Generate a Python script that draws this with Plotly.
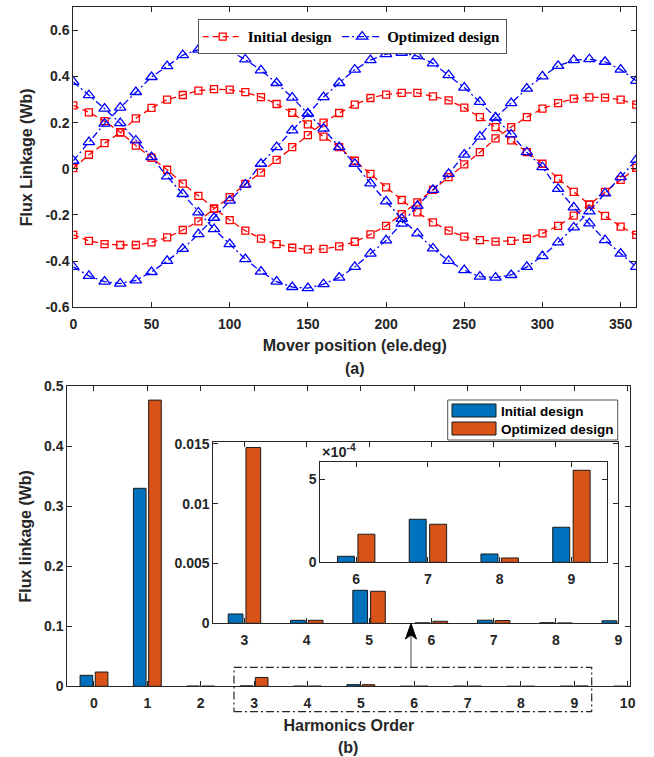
import plotly.graph_objects as go

# ---------------- data: (a) flux linkage vs mover position ----------------
deg = list(range(0, 361, 10))

init_a = [0.003, 0.061, 0.111, 0.157, 0.219, 0.264, 0.300, 0.320, 0.339, 0.345,
          0.343, 0.332, 0.311, 0.281, 0.243, 0.193, 0.140, 0.094, 0.035, -0.022,
          -0.080, -0.135, -0.189, -0.232, -0.268, -0.294, -0.309, -0.315, -0.312, -0.303,
          -0.280, -0.247, -0.203, -0.155, -0.100, -0.048, 0.004]
init_b = [0.275, 0.245, 0.207, 0.159, 0.101, 0.048, -0.004, -0.064, -0.117, -0.173,
          -0.222, -0.268, -0.302, -0.326, -0.342, -0.349, -0.347, -0.336, -0.316, -0.284,
          -0.247, -0.196, -0.145, -0.091, -0.036, 0.019, 0.072, 0.132, 0.181, 0.224,
          0.261, 0.285, 0.304, 0.310, 0.309, 0.300, 0.278]
init_c = [-0.286, -0.312, -0.326, -0.330, -0.330, -0.319, -0.297, -0.265, -0.228, -0.173,
          -0.123, -0.065, -0.016, 0.039, 0.094, 0.146, 0.200, 0.242, 0.278, 0.307,
          0.322, 0.329, 0.329, 0.314, 0.297, 0.265, 0.224, 0.181, 0.123, 0.072,
          0.022, -0.043, -0.100, -0.155, -0.204, -0.250, -0.286]

opt_a = [0.035, 0.116, 0.196, 0.265, 0.333, 0.398, 0.445, 0.493, 0.517, 0.522,
         0.511, 0.474, 0.427, 0.372, 0.309, 0.239, 0.174, 0.094, 0.022, -0.063,
         -0.141, -0.217, -0.280, -0.345, -0.399, -0.439, -0.467, -0.471, -0.460, -0.425,
         -0.378, -0.319, -0.254, -0.184, -0.106, -0.036, 0.039]
opt_b = [0.377, 0.319, 0.261, 0.198, 0.123, 0.051, -0.033, -0.109, -0.189, -0.261,
         -0.326, -0.391, -0.445, -0.489, -0.512, -0.517, -0.500, -0.471, -0.425, -0.367,
         -0.310, -0.237, -0.160, -0.091, -0.022, 0.062, 0.140, 0.222, 0.285, 0.348,
         0.401, 0.446, 0.471, 0.475, 0.464, 0.430, 0.381]
opt_c = [-0.425, -0.464, -0.489, -0.497, -0.483, -0.447, -0.399, -0.347, -0.283, -0.212,
         -0.138, -0.068, 0.022, 0.094, 0.167, 0.239, 0.311, 0.372, 0.430, 0.471,
         0.497, 0.503, 0.488, 0.457, 0.406, 0.352, 0.290, 0.222, 0.149, 0.072,
         0.007, -0.087, -0.167, -0.236, -0.309, -0.367, -0.425]

# ---------------- data: (b) harmonics ----------------
harm = list(range(0, 11))
harm_init = [0.0183, 0.330, 0.0004, 0.00078, 0.00025, 0.00276, 0.000036, 0.000259, 0.00005, 0.000211, 0.0001]
harm_opt = [0.0238, 0.477, 0.0002, 0.0147, 0.00025, 0.00268, 0.000169, 0.000229, 0.000026, 0.000554, 0.00005]
series_names = ["Initial design", "Optimized design"]

top_yticks = [-0.6, -0.4, -0.2, 0, 0.2, 0.4, 0.6]
top_yticktext = ["-0.6", "-0.4", "-0.2", "0", "0.2", "0.4", "0.6"]
top_xticks = [0, 50, 100, 150, 200, 250, 300, 350]
main_yticks = [0, 0.1, 0.2, 0.3, 0.4, 0.5]
main_yticktext = ["0", "0.1", "0.2", "0.3", "0.4", "0.5"]
in1_yticks = [0, 0.005, 0.01, 0.015]
in1_yticktext = ["0", "0.005", "0.01", "0.015"]
in2_yticks = [0, 5e-4]
in2_yticktext = ["0", "5"]

# ---------------- styling ----------------
W, H = 654, 757
SANS = "Liberation Sans"
SERIF = "Liberation Serif"
AX = "#262626"
RED = "#FF0000"
BLUE = "#0000FF"
C_INIT = "#0072BD"
C_OPT = "#D95319"


def px_x(p):
    return p / W


def px_y(p):
    return 1 - p / H


fig = go.Figure()

# ---- (a) curves ----
for i, ys in enumerate([init_a, init_b, init_c]):
    fig.add_trace(go.Scatter(
        x=deg, y=ys, xaxis="x", yaxis="y", mode="lines+markers",
        name=series_names[0], legendgroup="init", showlegend=(i == 0), legend="legend",
        line=dict(color=RED, width=1.3, dash="6px,4px"),
        marker=dict(symbol="square-open", size=7, color=RED, line=dict(color=RED, width=1.3)),
    ))
for i, ys in enumerate([opt_a, opt_b, opt_c]):
    fig.add_trace(go.Scatter(
        x=deg, y=ys, xaxis="x", yaxis="y", mode="lines+markers",
        name=series_names[1], legendgroup="opt", showlegend=(i == 0), legend="legend",
        line=dict(color=BLUE, width=1.3, dash="7px,3px,2px,3px"),
        marker=dict(symbol="triangle-up-open", size=10, color=BLUE, line=dict(color=BLUE, width=1.3)),
    ))

# ---- (b) bars ----
edge = dict(color="#1a1a1a", width=1)
for xa, ya, lo, hi in [("x2", "y2", 0, 11), ("x3", "y3", 3, 10), ("x4", "y4", 6, 10)]:
    fig.add_trace(go.Bar(x=harm[lo:hi], y=harm_init[lo:hi], xaxis=xa, yaxis=ya, name=series_names[0],
                         showlegend=False, marker=dict(color=C_INIT, line=edge)))
    fig.add_trace(go.Bar(x=harm[lo:hi], y=harm_opt[lo:hi], xaxis=xa, yaxis=ya, name=series_names[1],
                         showlegend=False, marker=dict(color=C_OPT, line=edge)))

tickfont = dict(family=SANS, size=14, color=AX, weight="bold")
titlefont = dict(family=SANS, size=16, color=AX, weight="bold")


def axis(domain, rng, anchor, **kw):
    d = dict(domain=domain, range=rng, anchor=anchor, showline=True, linecolor=AX, linewidth=1,
             mirror="ticks", ticks="inside", ticklen=5, tickcolor=AX, tickwidth=1,
             showgrid=False, zeroline=False, tickfont=tickfont, automargin=False)
    d.update(kw)
    return d


shapes = [
    # zoom box around harmonics 3..9
    dict(type="rect", xref="paper", yref="paper",
         x0=px_x(234), x1=px_x(591.7), y0=px_y(711.7), y1=px_y(667.3),
         line=dict(color=AX, width=1.2, dash="8px,3px,2px,3px"), fillcolor="rgba(0,0,0,0)"),
    # arrow shaft
    dict(type="line", xref="paper", yref="paper", x0=px_x(411), x1=px_x(411),
         y0=px_y(667.3), y1=px_y(634), line=dict(color="#444444", width=1)),
    # arrow head
    dict(type="path", xref="paper", yref="paper",
         path="M {:.5f},{:.5f} L {:.5f},{:.5f} L {:.5f},{:.5f} L {:.5f},{:.5f} Z".format(
             px_x(411), px_y(623.5), px_x(416.5), px_y(639), px_x(411), px_y(635), px_x(405.5), px_y(639)),
         fillcolor="black", line=dict(color="black", width=1)),
    # bar legend box
    dict(type="rect", xref="paper", yref="paper", x0=px_x(447.7), x1=px_x(617.7),
         y0=px_y(440), y1=px_y(400), fillcolor="white", line=dict(color="#555555", width=1)),
    dict(type="rect", xref="paper", yref="paper", x0=px_x(452), x1=px_x(496),
         y0=px_y(417), y1=px_y(404), fillcolor=C_INIT, line=dict(color="#1a1a1a", width=1)),
    dict(type="rect", xref="paper", yref="paper", x0=px_x(452), x1=px_x(496),
         y0=px_y(435), y1=px_y(422), fillcolor=C_OPT, line=dict(color="#1a1a1a", width=1)),
]

legfont = dict(family=SANS, size=13.5, color="black", weight="bold")
annotations = [
    dict(text="(a)", xref="paper", yref="paper", x=px_x(354.7), y=px_y(368.7),
         showarrow=False, font=dict(family=SANS, size=16, color=AX, weight="bold")),
    dict(text="(b)", xref="paper", yref="paper", x=px_x(348.3), y=px_y(747),
         yanchor="middle", showarrow=False, font=dict(family=SANS, size=16, color=AX, weight="bold")),
    dict(text="\u00d710<sup>-4</sup>", xref="paper", yref="paper", x=px_x(320), y=px_y(451),
         xanchor="left", yanchor="middle", showarrow=False,
         font=dict(family=SANS, size=14.5, color=AX, weight="bold")),
    dict(text=series_names[0], xref="paper", yref="paper", x=px_x(499), y=px_y(411),
         xanchor="left", yanchor="middle", showarrow=False, font=legfont),
    dict(text=series_names[1], xref="paper", yref="paper", x=px_x(499), y=px_y(429.5),
         xanchor="left", yanchor="middle", showarrow=False, font=legfont),
]

layout = dict(
    width=W, height=H, margin=dict(l=0, r=0, t=0, b=0),
    paper_bgcolor="white", plot_bgcolor="white", template="none",
    barmode="group", bargap=0.43, bargroupgap=0.17,
    xaxis=axis([px_x(73.3), px_x(636.3)], [0, 360], "y", tickvals=top_xticks, ticklabelstandoff=4,
               title=dict(text="Mover position (ele.deg)", font=titlefont, standoff=8)),
    yaxis=axis([px_y(307.3), px_y(7.3)], [-0.6, 0.7], "x", tickvals=top_yticks, ticktext=top_yticktext,
               title=dict(text="Flux Linkage (Wb)", font=titlefont, standoff=8)),
    xaxis2=axis([px_x(67.3), px_x(630.3)], [-0.5, 10.05], "y2", tickvals=harm, ticklabelstandoff=4,
                title=dict(text="Harmonics Order", font=titlefont, standoff=9)),
    yaxis2=axis([px_y(686.3), px_y(386.3)], [0, 0.5], "x2", tickvals=main_yticks, ticktext=main_yticktext,
                title=dict(text="Flux linkage (Wb)", font=titlefont, standoff=8)),
    xaxis3=axis([px_x(213.3), px_x(618.3)], [2.5, 9.0], "y3", tickvals=harm[3:10], ticklabelstandoff=4),
    yaxis3=axis([px_y(623.3), px_y(442.3)], [0, 0.01514], "x3", tickvals=in1_yticks, ticktext=in1_yticktext),
    xaxis4=axis([px_x(320.3), px_x(607.3)], [5.5, 9.5], "y4", tickvals=harm[6:10], ticklabelstandoff=4),
    yaxis4=axis([px_y(562.3), px_y(462.3)], [0, 6.02e-4], "x4", tickvals=in2_yticks, ticktext=in2_yticktext),
    legend=dict(orientation="h", x=px_x(197.7), y=px_y(19.3), xanchor="left", yanchor="top",
                bgcolor="white", bordercolor="#555555", borderwidth=1, itemwidth=40,
                font=dict(family=SERIF, size=15, color="black", weight="bold")),
    shapes=shapes,
    annotations=annotations,
)
fig.update_layout(**layout)

fig.write_html("out.html")
